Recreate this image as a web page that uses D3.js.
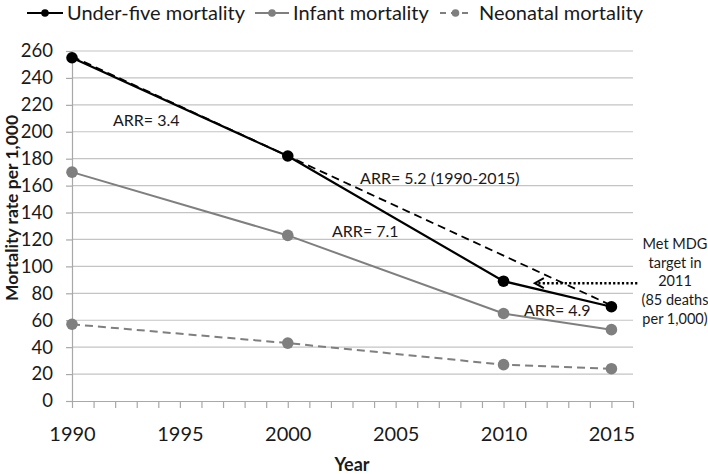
<!DOCTYPE html>
<html>
<head>
<meta charset="utf-8">
<script src="https://cdn.jsdelivr.net/npm/d3@7"></script>
<style>
  html, body { margin: 0; padding: 0; background: #fff; }
  svg { display: block; font-family: Lato, "Open Sans", sans-serif; }
</style>
</head>
<body>
<svg id="chart" width="708" height="474"></svg>
<script>
// ---- data ----
const years = [1990, 2000, 2010, 2015];
const underFive = [255, 182, 89, 70];
const infant = [170, 123, 65, 53];
const neonatal = [57, 43, 27, 24];
const trendYears = [1990, 2015];
const trendValues = [256, 71];
const yTicks = [0, 20, 40, 60, 80, 100, 120, 140, 160, 180, 200, 220, 240, 260];
const xTickLabels = [1990, 1995, 2000, 2005, 2010, 2015];
const seriesNames = ["Under-five mortality", "Infant mortality", "Neonatal mortality"];
const arrLabels = [
  { text: "ARR= 3.4", year: 1991.9, value: 204 },
  { text: "ARR= 5.2 (1990-2015)", year: 2003.35, value: 161 },
  { text: "ARR= 7.1", year: 2002.05, value: 122 },
  { text: "ARR= 4.9", year: 2010.95, value: 63 }
];
const mdgArrow = { fromYear: 2016.2, toYear: 2011.45, value: 87.5 };
const mdgLines = ["Met MDG", "target in", "2011", "(85 deaths", "per 1,000)"];

// ---- layout ----
const svg = d3.select("#chart");
const x = d3.scaleLinear().domain([1990, 2016]).range([72, 633]);
const y = d3.scaleLinear().domain([0, 260]).range([401, 51]);
const gridColor = "#c4c4c4";
const axisColor = "#a8a8a8";
const grey = "#7f7f7f";

// gridlines
svg.append("g").selectAll("line").data(yTicks.filter(d => d > 0)).join("line")
  .attr("x1", x(1990)).attr("x2", x(2016))
  .attr("y1", d => y(d)).attr("y2", d => y(d))
  .attr("stroke", gridColor).attr("stroke-width", 1.2);

// y axis
const yAxis = svg.append("g").attr("transform", `translate(${x(1990)},0)`)
  .call(d3.axisLeft(y).tickValues(yTicks).tickSize(6).tickPadding(13).tickSizeOuter(0));
yAxis.select(".domain").attr("stroke", axisColor).attr("stroke-width", 1.2);
yAxis.selectAll(".tick line").attr("stroke", axisColor).attr("stroke-width", 1.2);
yAxis.selectAll(".tick text").attr("font-size", 18.5).attr("fill", "#1a1a1a")
  .attr("font-family", "Lato, sans-serif");

// x axis
const xAxis = svg.append("g").attr("transform", `translate(0,${y(0)})`)
  .call(d3.axisBottom(x).tickValues(d3.range(1990, 2017)).tickSize(7).tickSizeOuter(0)
    .tickFormat(d => xTickLabels.includes(d) ? d : ""));
xAxis.select(".domain").attr("stroke", axisColor).attr("stroke-width", 1.2);
xAxis.selectAll(".tick line").attr("stroke", axisColor).attr("stroke-width", 1.2);
xAxis.selectAll(".tick text").attr("font-size", 20).attr("fill", "#1a1a1a")
  .attr("font-family", "Lato, sans-serif").attr("dy", "1.05em").attr("y", 19);

// axis titles
svg.append("text").attr("transform", "translate(18,208) rotate(-90)")
  .attr("text-anchor", "middle").attr("font-size", 17.5).attr("font-weight", "bold")
  .attr("fill", "#1a1a1a").text("Mortality rate per 1,000");
svg.append("text").attr("x", 352).attr("y", 471)
  .attr("text-anchor", "middle").attr("font-size", 18).attr("font-weight", "bold")
  .attr("fill", "#1a1a1a").text("Year");

// trend dashed line
svg.append("path")
  .datum(trendYears.map((yr, i) => [yr, trendValues[i]]))
  .attr("d", d3.line().x(d => x(d[0])).y(d => y(d[1])))
  .attr("fill", "none").attr("stroke", "#000").attr("stroke-width", 1.8)
  .attr("stroke-dasharray", "8,5");

// series
const series = [
  { name: seriesNames[0], values: underFive, color: "#000", dash: null, width: 2.2 },
  { name: seriesNames[1], values: infant, color: grey, dash: null, width: 2 },
  { name: seriesNames[2], values: neonatal, color: grey, dash: "8,5", width: 2 }
];
const line = d3.line().x(d => x(d[0])).y(d => y(d[1]));
series.forEach(s => {
  const pts = years.map((yr, i) => [yr, s.values[i]]);
  svg.append("path").datum(pts).attr("d", line)
    .attr("fill", "none").attr("stroke", s.color).attr("stroke-width", s.width)
    .attr("stroke-dasharray", s.dash);
  svg.append("g").selectAll("circle").data(pts).join("circle")
    .attr("cx", d => x(d[0])).attr("cy", d => y(d[1])).attr("r", 5.8)
    .attr("fill", s.color);
});

// ARR labels
svg.append("g").selectAll("text").data(arrLabels).join("text")
  .attr("x", d => x(d.year)).attr("y", d => y(d.value))
  .attr("font-size", 16).attr("fill", "#1a1a1a").text(d => d.text);

// MDG arrow
const ax1 = x(mdgArrow.fromYear), ax2 = x(mdgArrow.toYear), ay = y(mdgArrow.value);
svg.append("line")
  .attr("x1", ax1).attr("x2", ax2 + 2).attr("y1", ay).attr("y2", ay)
  .attr("stroke", "#000").attr("stroke-width", 2.6).attr("stroke-dasharray", "2.2,2.2");
svg.append("path")
  .attr("d", `M${ax2 + 9},${ay - 5} L${ax2},${ay} L${ax2 + 9},${ay + 5}`)
  .attr("fill", "none").attr("stroke", "#000").attr("stroke-width", 2)
  .attr("stroke-linejoin", "miter");
svg.append("g").selectAll("text").data(mdgLines).join("text")
  .attr("x", 675).attr("y", (d, i) => 249 + i * 18.7)
  .attr("text-anchor", "middle").attr("font-size", 14.5).attr("fill", "#1a1a1a")
  .text(d => d);

// legend
const legendItems = [
  { name: seriesNames[0], color: "#000", dash: null, x1: 27, x2: 63, tx: 67 },
  { name: seriesNames[1], color: grey, dash: null, x1: 255, x2: 289, tx: 293 },
  { name: seriesNames[2], color: grey, dash: "6,5", x1: 440, x2: 471, tx: 479 }
];
const lg = svg.append("g");
legendItems.forEach(it => {
  lg.append("line").attr("x1", it.x1).attr("x2", it.x2).attr("y1", 13).attr("y2", 13)
    .attr("stroke", it.color).attr("stroke-width", 2.2).attr("stroke-dasharray", it.dash);
  lg.append("circle").attr("cx", (it.x1 + it.x2) / 2).attr("cy", 13).attr("r", 3.8)
    .attr("fill", it.color);
  lg.append("text").attr("x", it.tx).attr("y", 20).attr("font-size", 20)
    .attr("fill", "#1a1a1a").text(it.name);
});
</script>
</body>
</html>
